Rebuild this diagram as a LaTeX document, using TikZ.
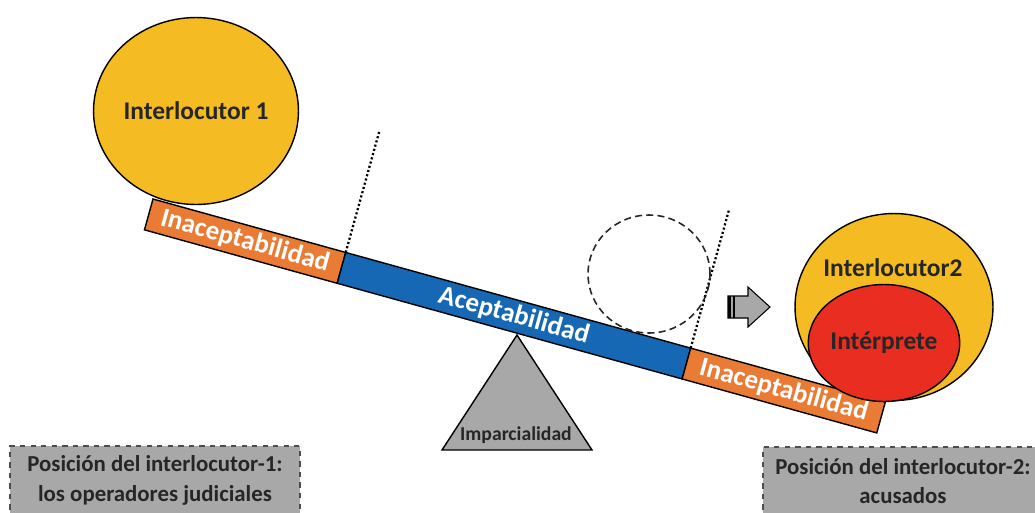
\documentclass[tikz,border=0pt]{standalone}
\usepackage{fontspec}
\setmainfont{Carlito}
\usetikzlibrary{shapes.geometric}

\definecolor{balYellow}{HTML}{F5BB22}
\definecolor{balOrange}{HTML}{E97B34}
\definecolor{balBlue}{HTML}{1667B4}
\definecolor{balRed}{HTML}{E92D20}
\definecolor{balGray}{HTML}{A8A8A8}
\definecolor{balText}{HTML}{262626}

\begin{document}
\begin{tikzpicture}[x=0.02cm,y=-0.02cm,
    outline/.style={draw=black,line width=0.8pt},
    ball/.style={outline,ellipse,inner sep=0pt},
    beamtext/.style={text=white,inner sep=0pt,font=\bfseries\fontsize{15.4}{18}\selectfont,rotate=-15.5},
    ballname/.style={text=balText,font=\bfseries\fontsize{14.5}{17}\selectfont},
    cutline/.style={line width=1.3pt,dash pattern=on 1.2pt off 1.3pt},
    posbox/.style={draw=black!70,dashed,line width=0.7pt,fill=balGray,text=balText,
      align=center,font=\bfseries\fontsize{13}{17}\selectfont,minimum height=1.36cm}]

  \useasboundingbox (0,0) rectangle (1035,512);
  \clip (0,0) rectangle (1035,512);

  % fulcrum
  \coordinate (apex) at (517,335);
  \coordinate (baseL) at (442,450);
  \coordinate (baseR) at (592,450);
  \draw[outline,fill=balGray] (apex) -- (baseL) -- (baseR) -- cycle;
  \node[text=balText,font=\bfseries\fontsize{11.2}{13}\selectfont] (pivot) at (516,435) {Imparcialidad};

  % the beam, tilted
  \begin{scope}[shift={(153,199)},rotate=-15.5]
    \coordinate (cutL) at (200,0);
    \coordinate (cutLtop) at (200,-127);
    \coordinate (cutR) at (558,0);
    \coordinate (cutRtop) at (558,-143);
    \draw[cutline] (cutL) -- (cutLtop);
    \draw[cutline] (cutR) -- (cutRtop);

    \draw[outline,fill=balOrange] (0,0) rectangle (200,32);
    \draw[outline,fill=balBlue] (200,0) rectangle (558,32);
    \draw[outline,fill=balOrange] (558,0) rectangle (760,32);

    \node[beamtext] (inacL) at (100,16) {Inaceptabilidad};
    \node[beamtext] (acep) at (379,16) {Aceptabilidad};
    \node[beamtext] (inacR) at (659,16) {Inaceptabilidad};
  \end{scope}

  % weights
  \node[ball,fill=balYellow,minimum width=3.98cm,minimum height=3.74cm,ballname] (ball1) at (196,111) {Interlocutor 1};
  \node[ball,fill=balYellow,minimum width=3.96cm,minimum height=3.74cm] (ball2) at (894,307) {};
  \node[ballname] (ball2name) at (893,268) {Interlocutor2};
  \node[ball,fill=balRed,minimum width=2.42cm,minimum height=2.34cm,ballname] (interp) at (884,343) {Intérprete};

  \node[ellipse,draw=black!85,line width=0.9pt,dash pattern=on 4pt off 2.4pt,
    minimum width=2.44cm,minimum height=2.36cm] (ghost) at (649,274) {};

  % striped arrow
  \draw[outline,fill=balGray,line width=0.6pt] (728,296) -- (748,296) -- (748,287) -- (770,307)
    -- (748,327) -- (748,318) -- (728,318) -- cycle;
  \fill[black] (728,296) rectangle (731,318);
  \fill[black] (732.5,296) rectangle (734.5,318);

  % positions
  \node[posbox,minimum width=5.8cm] (posL) at (155,480) {Posición del interlocutor-1:\\los operadores judiciales};
  \node[posbox,minimum width=5.6cm] (posR) at (903,481) {Posición del interlocutor-2:\\acusados};

\end{tikzpicture}
\end{document}
